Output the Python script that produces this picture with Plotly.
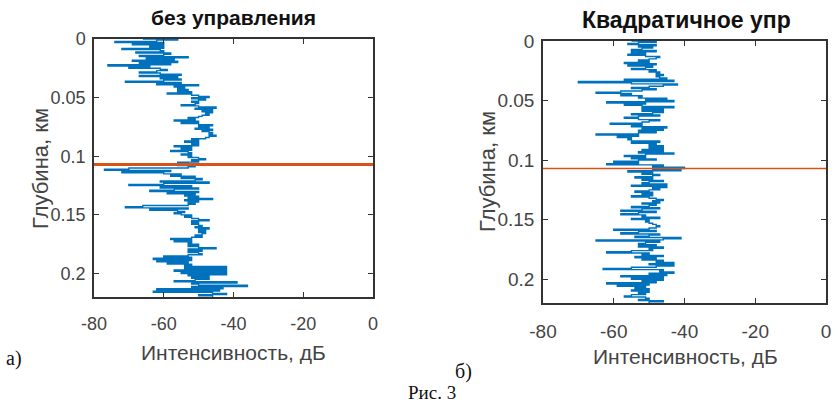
import numpy as np
import plotly.graph_objects as go

# Depth grid, km (1 m sampling)
depth_km = np.round(np.arange(0, 221) * 0.001, 3)

# Intensity profile without control, dB
intensity_none = [
    -66, -56, -62, -74, -60, -69, -60, -64, -60, -72, -61, -60, -68, -58, -60, -67, -53, -65, -57, -69,
    -56, -67, -58, -76, -64, -70, -61, -59, -62, -67, -61, -55, -67, -56, -61, -55, -60, -71, -55, -62,
    -50, -57, -54, -56, -53, -56, -52, -59, -52, -50, -47, -52, -48, -50, -52, -50, -51, -55, -50, -45,
    -51, -46, -49, -46, -48, -47, -49, -50, -53, -51, -57, -50, -55, -50, -46, -50, -47, -51, -46, -49,
    -47, -46, -47, -45, -47, -48, -52, -50, -54, -50, -52, -50, -57, -52, -55, -52, -58, -53, -52, -55,
    -52, -53, -50, -48, -52, -50, -56, -53, -56, -51, -53, -70, -77, -58, -72, -60, -55, -58, -51, -55,
    -49, -51, -61, -47, -60, -70, -52, -61, -50, -57, -64, -50, -59, -51, -54, -50, -53, -46, -54, -50,
    -53, -51, -53, -66, -71, -53, -64, -56, -54, -57, -55, -52, -54, -52, -50, -47, -52, -50, -52, -50,
    -49, -51, -47, -50, -48, -50, -48, -49, -51, -49, -52, -58, -52, -57, -52, -53, -50, -53, -50, -45,
    -53, -49, -53, -50, -49, -53, -60, -52, -63, -52, -62, -53, -59, -52, -54, -42, -54, -42, -57, -42,
    -55, -42, -53, -47, -52, -47, -51, -57, -39, -52, -50, -36, -52, -43, -62, -44, -63, -46, -42, -50,
    -46,
]

# Intensity profile with quadratic control, dB
intensity_quad = [
    -55, -48, -53, -56, -48, -53, -49, -52, -55, -48, -55, -51, -56, -51, -47, -48, -50, -53, -50, -57,
    -48, -56, -49, -51, -55, -48, -50, -47, -48, -46, -48, -47, -45, -57, -43, -70, -55, -42, -46, -50,
    -55, -48, -52, -58, -65, -55, -58, -52, -53, -45, -51, -43, -62, -51, -57, -52, -43, -52, -46, -52,
    -46, -49, -55, -47, -53, -57, -53, -47, -50, -52, -61, -52, -55, -45, -52, -46, -53, -48, -53, -65,
    -53, -59, -55, -56, -55, -47, -55, -48, -50, -46, -50, -46, -52, -46, -53, -43, -51, -57, -51, -55,
    -48, -53, -60, -53, -62, -46, -49, -40, -49, -41, -56, -49, -52, -47, -49, -54, -49, -52, -46, -50,
    -52, -45, -55, -45, -49, -47, -50, -54, -49, -52, -49, -55, -50, -48, -46, -49, -47, -52, -48, -50,
    -55, -47, -52, -58, -48, -53, -58, -51, -52, -47, -55, -50, -51, -50, -49, -48, -47, -48, -50, -60,
    -48, -53, -58, -47, -50, -54, -41, -46, -65, -47, -51, -53, -48, -53, -46, -50, -49, -55, -62, -50,
    -52, -46, -54, -48, -52, -46, -48, -43, -50, -43, -48, -55, -63, -46, -47, -43, -50, -45, -58, -46,
    -55, -46, -52, -48, -62, -50, -59, -51, -54, -50, -55, -50, -53, -51, -55, -57, -51, -50, -53, -46,
    -50,
]

# Depth of the marked horizon, km
marker_depth_km = 0.107

x_ticks = [-80, -60, -40, -20, 0]
x_tick_text = ["-80", "-60", "-40", "-20", "0"]
y_ticks = [0, 0.05, 0.1, 0.15, 0.2]
y_tick_text = ["0", "0.05", "0.1", "0.15", "0.2"]

titles = ["без управления", "Квадратичное упр"]
x_title = "Интенсивность, дБ"
y_title = "Глубина, км"

BLUE = "#0072BD"
RED = "#D95319"
AXIS = "#333333"
SANS = "Liberation Sans, Arial, sans-serif"
SERIF = "Liberation Serif, Times New Roman, serif"

W, H = 835, 403


def xdom(a, b):
    return [a / W, b / W]


def ydom(top, bottom):
    return [1 - bottom / H, 1 - top / H]


fig = go.Figure()

# Intensity profiles drawn as horizontal strokes at each depth sample
fig.add_trace(go.Scatter(x=intensity_none, y=depth_km, mode="lines",
                         line=dict(color=BLUE, width=1.4, shape="hv"),
                         xaxis="x", yaxis="y", showlegend=False))
fig.add_trace(go.Scatter(x=[x_ticks[0], x_ticks[-1]], y=[marker_depth_km, marker_depth_km],
                         mode="lines", line=dict(color=RED, width=3),
                         xaxis="x", yaxis="y", showlegend=False))
fig.add_trace(go.Scatter(x=intensity_quad, y=depth_km, mode="lines",
                         line=dict(color=BLUE, width=1.4, shape="hv"),
                         xaxis="x2", yaxis="y2", showlegend=False))
fig.add_trace(go.Scatter(x=[x_ticks[0], x_ticks[-1]], y=[marker_depth_km, marker_depth_km],
                         mode="lines", line=dict(color=RED, width=1.6),
                         xaxis="x2", yaxis="y2", showlegend=False))


def x_axis(dom, anchor, size):
    return dict(domain=dom, anchor=anchor, range=[-80, 0], tickvals=x_ticks,
                ticktext=x_tick_text, ticks="inside", ticklen=5, tickcolor=AXIS,
                showline=True, linecolor=AXIS, linewidth=1.5, mirror="ticks",
                showgrid=False, zeroline=False, automargin=False, ticklabelstandoff=10,
                tickfont=dict(family=SANS, size=size, color="#444444"))


def y_axis(dom, anchor, size):
    return dict(domain=dom, anchor=anchor, range=[0.22, 0], tickvals=y_ticks,
                ticktext=y_tick_text, ticks="inside", ticklen=5, tickcolor=AXIS,
                showline=True, linecolor=AXIS, linewidth=1.5, mirror="ticks",
                showgrid=False, zeroline=False, automargin=False, ticklabelstandoff=3,
                tickfont=dict(family=SANS, size=size, color="#444444"))


fig.update_layout(
    width=W, height=H,
    margin=dict(l=0, r=0, t=0, b=0, autoexpand=False),
    paper_bgcolor="white", plot_bgcolor="white",
    xaxis=x_axis(xdom(94, 373), "y", 18),
    yaxis=y_axis(ydom(39, 297), "x", 18),
    xaxis2=x_axis(xdom(543, 826), "y2", 19),
    yaxis2=y_axis(ydom(41, 303), "x2", 19),
)

ann = [
    dict(x=233, y=18, text="<b>" + titles[0] + "</b>",
         font=dict(family=SANS, size=21, color="#111111")),
    dict(x=686, y=20, text="<b>" + titles[1] + "</b>",
         font=dict(family=SANS, size=23, color="#111111")),
    dict(x=233, y=352, text=x_title, font=dict(family=SANS, size=21, color="#444444")),
    dict(x=685, y=356, text=x_title, font=dict(family=SANS, size=21, color="#444444")),
    dict(x=40, y=169, text=y_title, textangle=-90,
         font=dict(family=SANS, size=22, color="#444444")),
    dict(x=487, y=172, text=y_title, textangle=-90,
         font=dict(family=SANS, size=22, color="#444444")),
    dict(x=14, y=358, text="а)", font=dict(family=SERIF, size=20, color="#111111")),
    dict(x=463, y=371, text="б)", font=dict(family=SERIF, size=20, color="#111111")),
    dict(x=432, y=392, text="Рис. 3", font=dict(family=SERIF, size=19, color="#111111")),
]
for a in ann:
    a.update(x=a["x"] / W, y=1 - a["y"] / H, xref="paper", yref="paper",
             showarrow=False, xanchor="center", yanchor="middle")
fig.update_layout(annotations=ann)

fig.write_html("out.html")
